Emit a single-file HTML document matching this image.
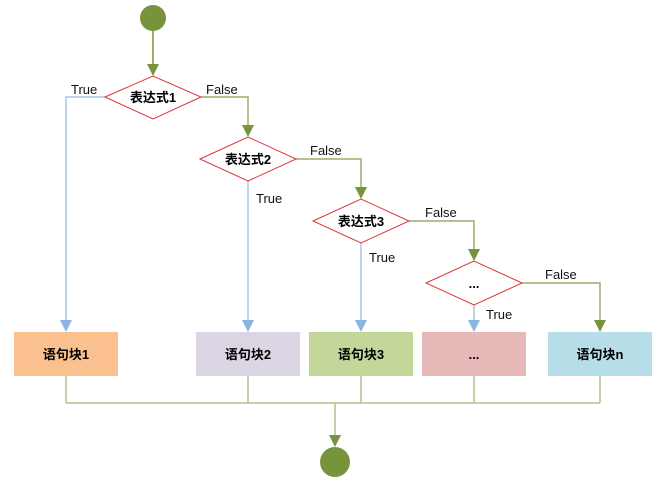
<!DOCTYPE html>
<html><head><meta charset="utf-8"><style>body{margin:0;background:#fff}</style></head><body>
<svg width="671" height="485" xmlns="http://www.w3.org/2000/svg" font-family="Liberation Sans, Noto Sans CJK SC, sans-serif">
<defs>
<marker id="g" markerWidth="10" markerHeight="12" refX="5" refY="11" orient="auto" markerUnits="userSpaceOnUse"><path d="M0,0 L10,0 L5,12 z" fill="#77933c" transform="rotate(-90 5 6) translate(0 0)"/></marker>
</defs>
<g fill="none" stroke-width="1.5">
<!-- green flow -->
<path d="M153,31 V64" stroke="#77933c"/>
<path d="M201,97 H248 V125" stroke="#9bae6a"/>
<path d="M296,159 H361 V187" stroke="#9bae6a"/>
<path d="M409,221 H474 V249" stroke="#9bae6a"/>
<path d="M522,283 H600 V320" stroke="#9bae6a"/>
<!-- blue true -->
<path d="M105,97 H66 V320" stroke="#a9c3e6"/>
<path d="M248,181 V320" stroke="#a9c3e6"/>
<path d="M361,243 V320" stroke="#a9c3e6"/>
<path d="M474,305 V320" stroke="#a9c3e6"/>
<!-- bottom -->
<path d="M66,376 V403 M248,376 V403 M361,376 V403 M474,376 V403 M600,376 V403 M66,403 H600 M335,403 V435" stroke="#b1c38a"/>
</g>
<g fill="#77933c">
<path d="M147,64 L159,64 L153,76 z"/>
<path d="M242,125 L254,125 L248,137 z"/>
<path d="M355,187 L367,187 L361,199 z"/>
<path d="M468,249 L480,249 L474,261 z"/>
<path d="M594,320 L606,320 L600,332 z"/>
<path d="M329,435 L341,435 L335,447 z"/>
</g>
<g fill="#8db3e2">
<path d="M60,320 L72,320 L66,332 z"/>
<path d="M242,320 L254,320 L248,332 z"/>
<path d="M355,320 L367,320 L361,332 z"/>
<path d="M468,320 L480,320 L474,332 z"/>
</g>
<circle cx="153" cy="18" r="13" fill="#77933c"/>
<circle cx="335" cy="462" r="15" fill="#77933c"/>
<g fill="#fff" stroke="#e0343a" stroke-width="1">
<path d="M105,97 L153,76 L201,97 L153,119 z"/>
<path d="M200,159 L248,137 L296,159 L248,181 z"/>
<path d="M313,221 L361,199 L409,221 L361,243 z"/>
<path d="M426,283 L474,261 L522,283 L474,305 z"/>
</g>
<rect x="14" y="332" width="104" height="44" fill="#fac090"/>
<rect x="196" y="332" width="104" height="44" fill="#dcd6e4"/>
<rect x="309" y="332" width="104" height="44" fill="#c4d79b"/>
<rect x="422" y="332" width="104" height="44" fill="#e6b8b7"/>
<rect x="548" y="332" width="104" height="44" fill="#b7dde8"/>
<g font-size="13" font-weight="bold" text-anchor="middle" fill="#000">
<text x="153" y="102">表达式1</text>
<text x="248" y="164">表达式2</text>
<text x="361" y="226">表达式3</text>
<text x="474" y="288">...</text>
<text x="66" y="359">语句块1</text>
<text x="248" y="359">语句块2</text>
<text x="361" y="359">语句块3</text>
<text x="474" y="359">...</text>
<text x="600" y="359">语句块n</text>
</g>
<g font-size="13" fill="#111">
<text x="71" y="94">True</text>
<text x="206" y="94">False</text>
<text x="310" y="155">False</text>
<text x="256" y="203">True</text>
<text x="425" y="217">False</text>
<text x="369" y="262">True</text>
<text x="545" y="279">False</text>
<text x="486" y="319">True</text>
</g>
</svg>
</body></html>
